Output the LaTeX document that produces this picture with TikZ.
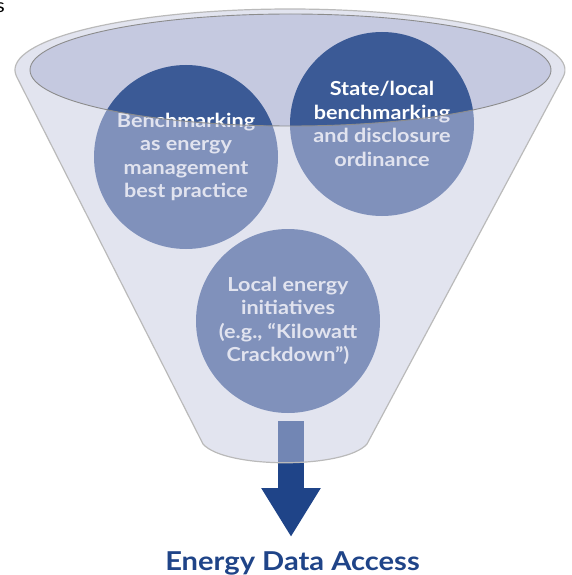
\documentclass[tikz,border=0pt]{standalone}
\usepackage{fontspec}
\setmainfont{Lato}[FakeStretch=1.12]
\definecolor{circblue}{RGB}{59, 90, 150}
\definecolor{rimlav}{RGB}{197, 201, 224}
\definecolor{spoutblue}{RGB}{31, 68, 136}
\definecolor{edgegray}{RGB}{140, 140, 140}
\usetikzlibrary{arrows.meta, positioning}

% outline of the funnel: top rim, two sides, rounded bottom
\newcommand{\funnel}{(16.7,76.8) arc[start angle=173.6, end angle=366.74, x radius=275, y radius=61]
  -- (367,444) .. controls (345,469) and (225,469) .. (203,444) -- cycle}

\begin{document}
\begin{tikzpicture}[x=1pt, y=-1pt,
  bubble/.style={circle, fill=circblue, text=white, inner sep=0pt, minimum size=184pt,
    align=center, font=\fontsize{19.3}{23.5}\selectfont\bfseries}]
  \useasboundingbox (0,0) rectangle (571,575);

  % stray letter at the corner
  \node[anchor=base east, inner sep=0pt, font=\fontsize{19}{23}\selectfont] (cut) at (5,13) {s};

  % mouth of the funnel
  \fill[rimlav] (290.5,70) ellipse [x radius=260.5, y radius=56];

  % the three inputs
  \node[bubble] (practice) at (186,157) {Benchmarking\\as energy\\management\\best practice};
  \node[bubble] (ordinance) at (382,124) {State/local\\benchmarking\\and disclosure\\ordinance};
  \node[bubble] (local) at (288,321) {Local energy\\initiatives\\(e.g., “Kilowatt\\Crackdown”)};

  % output arrow
  \coordinate (spout) at (291,421);
  \node[anchor=base, inner sep=0pt, text=spoutblue, font=\fontsize{26}{30}\selectfont\bfseries] (access) at (292.5,570) {Energy Data Access};
  \draw[spoutblue, line width=26pt, -{Triangle[length=49pt, width=56pt]}, shorten >=14pt] (spout) -- (spout |- access.north);

  % front wall, see-through
  \fill[rimlav, fill opacity=0.5, even odd rule] \funnel (290.5,70) ellipse [x radius=260.5, y radius=56];
  \draw[edgegray!60, line width=1.2pt] \funnel;
  \draw[edgegray, line width=0.9pt] (290.5,70) ellipse [x radius=260.5, y radius=56];
\end{tikzpicture}
\end{document}
